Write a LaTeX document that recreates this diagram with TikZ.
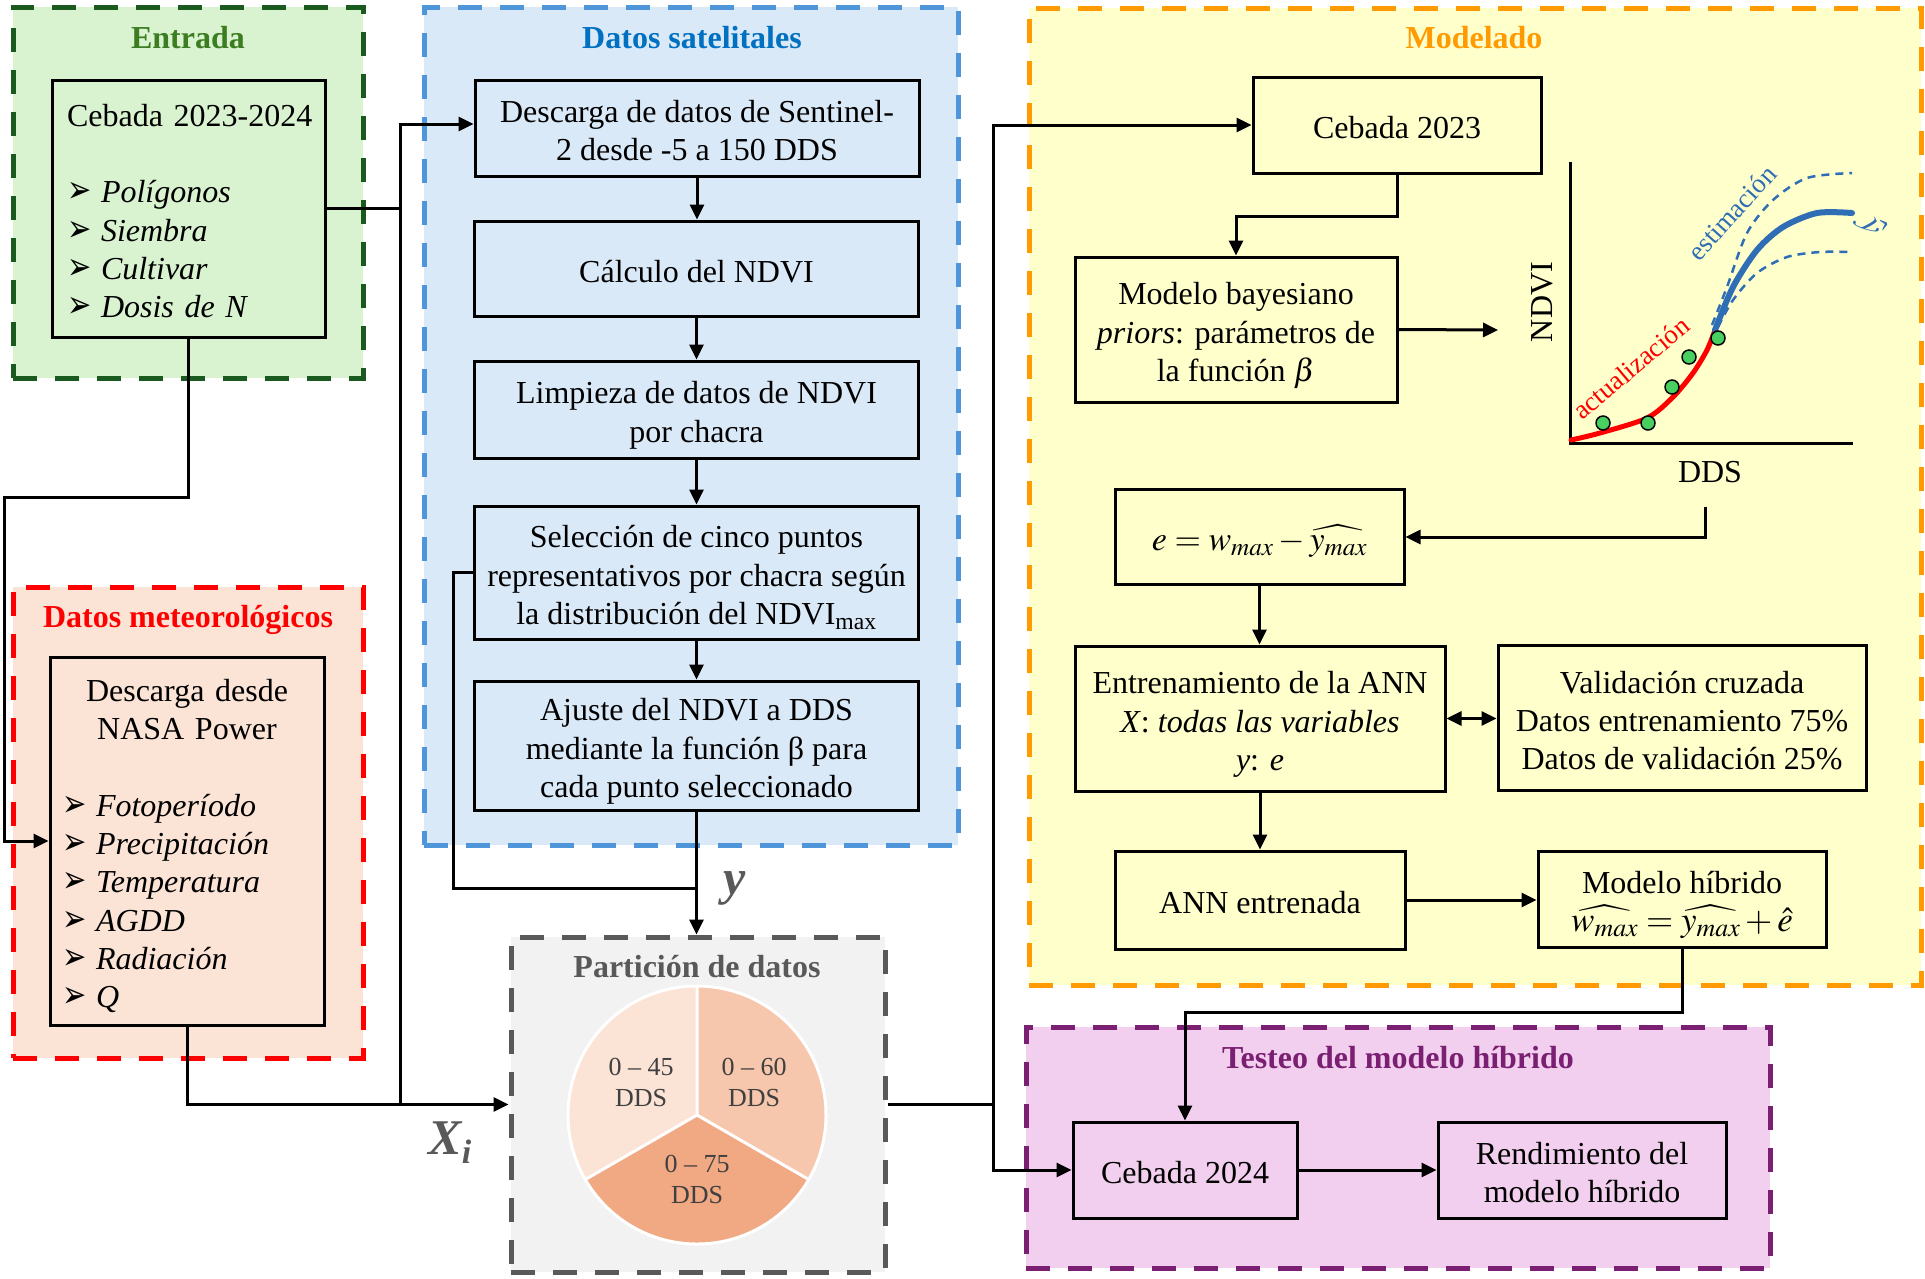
\documentclass[tikz,border=0pt]{standalone}
\usepackage{mathptmx}
\usepackage{fontspec}
\setmainfont{Liberation Serif}
\newfontfamily\djv{DejaVu Sans}
\usetikzlibrary{arrows.meta}
\definecolor{entFill}{HTML}{D9F2D0}
\definecolor{entLine}{HTML}{1B5A1F}
\definecolor{entTitle}{HTML}{3C7D22}
\definecolor{satFill}{HTML}{DAE9F8}
\definecolor{satLine}{HTML}{4E95D9}
\definecolor{satTitle}{HTML}{0070C0}
\definecolor{metFill}{HTML}{FBE3D6}
\definecolor{metLine}{HTML}{FF0000}
\definecolor{parFill}{HTML}{F2F2F2}
\definecolor{parLine}{HTML}{595959}
\definecolor{modFill}{HTML}{FFFFCC}
\definecolor{modLine}{HTML}{FF9A00}
\definecolor{tesFill}{HTML}{F2CFEE}
\definecolor{tesLine}{HTML}{7B1F72}
\definecolor{pieA}{HTML}{FBE3D6}
\definecolor{pieB}{HTML}{F6C6AD}
\definecolor{pieC}{HTML}{F1A983}
\definecolor{pieTxt}{HTML}{404040}
\definecolor{blueC}{HTML}{2F6EB5}
\definecolor{dotC}{HTML}{47CF5F}
\newcommand\bul{\makebox[34pt][l]{\scalebox{1}[1.3]{\djv\fontsize{29}{29}\selectfont ➢}}}
\newcommand\sT{\rule{0pt}{36pt}}
\newcommand\sB{\rule[-9pt]{0pt}{9pt}}
\begin{document}
\begin{tikzpicture}[x=1pt,y=-1pt,
  box/.style={draw=black, line width=3pt, inner sep=0pt, align=center, text=black,
    font=\fontsize{32}{38.3}\selectfont},
  frame/.style={line width=5pt, dash pattern=on 24pt off 18pt, inner sep=0pt},
  ttl/.style={font=\fontsize{32}{38}\selectfont\bfseries, inner sep=0pt},
  conn/.style={line width=3pt, draw=black},
  arr/.style={conn, -{Triangle[length=15pt,width=14pt]}},
  darr/.style={conn, {Triangle[length=15pt,width=14pt]}-{Triangle[length=15pt,width=14pt]}},
  pietxt/.style={align=center, inner sep=0pt, text=pieTxt, font=\fontsize{26}{31}\selectfont},
  plbl/.style={inner sep=0pt, font=\fontsize{32}{32}\selectfont},
  big/.style={inner sep=0pt, text=parLine, font=\fontsize{50}{50}\selectfont\bfseries\itshape}]
\useasboundingbox (0,0) rectangle (1925,1278);

% ---------- frames ----------
\node[frame, fill=entFill, draw=entLine, minimum width=350pt, minimum height=371pt] (fEnt) at (188,192.5) {};
\node[frame, fill=satFill, draw=satLine, minimum width=534pt, minimum height=838pt] (fSat) at (691,426) {};
\node[frame, fill=metFill, draw=metLine, minimum width=350pt, minimum height=471pt] (fMet) at (188,822.5) {};
\node[frame, fill=parFill, draw=parLine, minimum width=374pt, minimum height=335pt] (fPar) at (698,1104.5) {};
\node[frame, fill=modFill, draw=modLine, minimum width=892pt, minimum height=977pt] (fMod) at (1475,496.5) {};
\node[frame, fill=tesFill, draw=tesLine, minimum width=744pt, minimum height=241pt] (fTes) at (1398,1147.5) {};

% ---------- titles ----------
\node[ttl, text=entTitle] (tEnt) at (188,38) {Entrada};
\node[ttl, text=satTitle] (tSat) at (692,38) {Datos satelitales};
\node[ttl, text=metLine] (tMet) at (188,620) {Datos meteorológicos};
\node[ttl, text=parLine] (tPar) at (697,967) {Partición de datos};
\node[ttl, text=modLine] (tMod) at (1474,38) {Modelado};
\node[ttl, text=tesLine] (tTes) at (1398,1058) {Testeo del modelo híbrido};

% ---------- Entrada / meteo boxes ----------
\node[box, minimum width=273pt, minimum height=257pt, text width=243pt, align=left] (entbox) at (188.5,208.5)
  {\sT\mbox{Cebada 2023-2024}\\[38.3pt]\bul\textit{Polígonos}\\\bul\textit{Siembra}\\\bul\textit{Cultivar}\\\bul\textit{Dosis de N}\sB};
\node[box, minimum width=274pt, minimum height=368pt, text width=250pt, align=left] (metbox) at (187,841)
  {\sT\makebox[250pt]{Descarga desde}\\\makebox[250pt]{NASA Power}\\[38.3pt]\bul\textit{Fotoperíodo}\\\bul\textit{Precipitación}\\\bul\textit{Temperatura}\\\bul\textit{AGDD}\\\bul\textit{Radiación}\\\bul\textit{Q}\sB};

% ---------- satellite boxes ----------
\node[box, minimum width=444pt, minimum height=96pt] (b1) at (697,128) {\sT Descarga de datos de Sentinel-\\2 desde -5 a 150 DDS\sB};
\node[box, minimum width=444pt, minimum height=95pt] (b2) at (696.5,268.5) {\sT Cálculo del NDVI\sB};
\node[box, minimum width=444pt, minimum height=97pt] (b3) at (696.5,409.5) {\sT Limpieza de datos de NDVI\\por chacra\sB};
\node[box, minimum width=444pt, minimum height=133pt] (b4) at (696.5,572.5) {\sT Selección de cinco puntos\\representativos por chacra según\\la distribución del NDVI\textsubscript{max}\sB};
\node[box, minimum width=444pt, minimum height=129pt] (b5) at (696.5,745.5) {\sT Ajuste del NDVI a DDS\\mediante la función β para\\cada punto seleccionado\sB};

% ---------- pie ----------
\coordinate (pc) at (697,1115);
\fill[pieA] (pc) -- ++(-90:129) arc[start angle=-90, end angle=-210, radius=129] -- cycle;
\fill[pieB] (pc) -- ++(30:129) arc[start angle=30, end angle=-90, radius=129] -- cycle;
\fill[pieC] (pc) -- ++(-210:129) arc[start angle=-210, end angle=-330, radius=129] -- cycle;
\draw[white, line width=3pt] (pc) circle[radius=129];
\draw[white, line width=3pt] (pc) -- ++(-90:129) (pc) -- ++(-210:129) (pc) -- ++(-330:129);
\node[pietxt] (p45) at (641,1082) {0 – 45\\DDS};
\node[pietxt] (p60) at (754,1082) {0 – 60\\DDS};
\node[pietxt] (p75) at (697,1179) {0 – 75\\DDS};

% ---------- modelado boxes ----------
\node[box, minimum width=288pt, minimum height=96pt] (c23) at (1397,125) {\sT Cebada 2023\sB};
\node[box, minimum width=322pt, minimum height=145pt] (bay) at (1236,329.5) {\sT Modelo bayesiano\\\textit{priors}: parámetros de\\la función $\beta$\sB};
\node[box, minimum width=289pt, minimum height=95pt] (ebox) at (1259.5,537) {\sT{\fontsize{34}{38}\selectfont$e = w_{max} - \widehat{y_{max}}$}\sB};
\node[box, minimum width=370pt, minimum height=145pt] (ann) at (1260,718.5) {\sT Entrenamiento de la ANN\\\textit{X}: \textit{todas las variables}\\\textit{y}: \textit{e}\sB};
\node[box, minimum width=368pt, minimum height=145pt] (val) at (1682,718) {\sT Validación cruzada\\Datos entrenamiento 75\%\\Datos de validación 25\%\sB};
\node[box, minimum width=290pt, minimum height=98pt] (anne) at (1260,900) {\sT ANN entrenada\sB};
\node[box, minimum width=288pt, minimum height=96pt] (hib) at (1682,899) {\sT Modelo híbrido\\{\fontsize{35}{38}\selectfont$\widehat{w_{max}} = \widehat{y_{max}} + \hat{e}$}\sB};

% ---------- testeo boxes ----------
\node[box, minimum width=224pt, minimum height=96pt] (c24) at (1185,1170) {\sT Cebada 2024\sB};
\node[box, minimum width=288pt, minimum height=96pt] (rend) at (1582,1170) {\sT Rendimiento del\\modelo híbrido\sB};

% ---------- plot ----------
\draw[line width=3pt] (1570,162) -- (1570,443) -- (1853,443);
\draw[red, line width=5pt, line cap=round] plot[smooth] coordinates {(1571,440) (1600,433) (1647,418) (1673,397) (1693,373) (1707,350) (1715,330)};
\draw[blueC, line width=2.5pt, dash pattern=on 8pt off 6pt] plot[smooth] coordinates {(1712,325) (1727,287) (1747,233) (1773,200) (1807,178) (1852,173)};
\draw[blueC, line width=2.5pt, dash pattern=on 8pt off 6pt] plot[smooth] coordinates {(1718,327) (1733,300) (1757,273) (1787,257) (1820,252) (1852,252)};
\draw[blueC, line width=6pt, line cap=round] plot[smooth] coordinates {(1715,330) (1733,287) (1757,250) (1783,227) (1817,213) (1852,213)};
\foreach \p in {(1603,423),(1648,423),(1672,387),(1689,357),(1718,338)}
  \draw[fill=dotC, line width=1.5pt] \p circle[radius=7pt];
\node[plbl, rotate=90] (ndvi) at (1542,302) {NDVI};
\node[plbl] (dds) at (1710,472) {DDS};
\node[inner sep=0pt, text=blueC, rotate=48, font=\fontsize{27}{27}\selectfont] (est) at (1732,213) {estimación};
\node[inner sep=0pt, text=red, rotate=40, font=\fontsize{27}{27}\selectfont] (act) at (1631,368) {actualización};
\node[inner sep=0pt, text=blueC, rotate=-75, font=\fontsize{36}{36}\selectfont] (yhat) at (1871,226) {$\hat{y}$};
\coordinate (pa) at (1498,330);
\coordinate (pdds) at (1705,506.5);

% ---------- labels ----------
\node[big] (ylab) at (735,888) {y};
\node[big] (xlab) at (450,1143) {X\raisebox{-9pt}{\fontsize{34}{34}\selectfont i}};

% ---------- connectors ----------
\coordinate (vtop) at (400,124);
\coordinate (vbot) at (400,1104.5);
\coordinate (lA) at (4,497);
\coordinate (yj) at (453,888);
\coordinate (rx) at (993,1104.5);
\draw[conn] (entbox.east) -- (entbox.east -| vtop);
\draw[arr] (vbot) -- (vtop) -- (vtop -| b1.west);
\draw[arr] (entbox.south) |- (lA) |- (metbox.west);
\draw[arr] (metbox.south) |- (fPar.west);
\draw[arr] (b1.south) -- (b1.south |- b2.north);
\draw[arr] (b2.south) -- (b2.south |- b3.north);
\draw[arr] (b3.south) -- (b3.south |- b4.north);
\draw[arr] (b4.south) -- (b4.south |- b5.north);
\draw[arr] (b5.south) -- (b5.south |- fPar.north);
\draw[conn] (b4.west) -| (yj) -- (yj -| b5.south);
\draw[conn] (fPar.east) -- (rx);
\draw[arr] (rx) |- (c23.west);
\draw[arr] (rx) |- (c24.west);
\draw[arr] (c23.south) -- ++(0,42) -| (bay.north);
\draw[arr] (bay.east) -- (pa);
\draw[arr] (pdds) |- (ebox.east);
\draw[arr] (ebox.south) -- (ebox.south |- ann.north);
\draw[darr] (ann.east) -- (ann.east -| val.west);
\draw[arr] (ann.south) -- (ann.south |- anne.north);
\draw[arr] (anne.east) -- (anne.east -| hib.west);
\draw[arr] (hib.south) -- ++(0,64) -| (c24.north);
\draw[arr] (c24.east) -- (c24.east -| rend.west);
\end{tikzpicture}
\end{document}
